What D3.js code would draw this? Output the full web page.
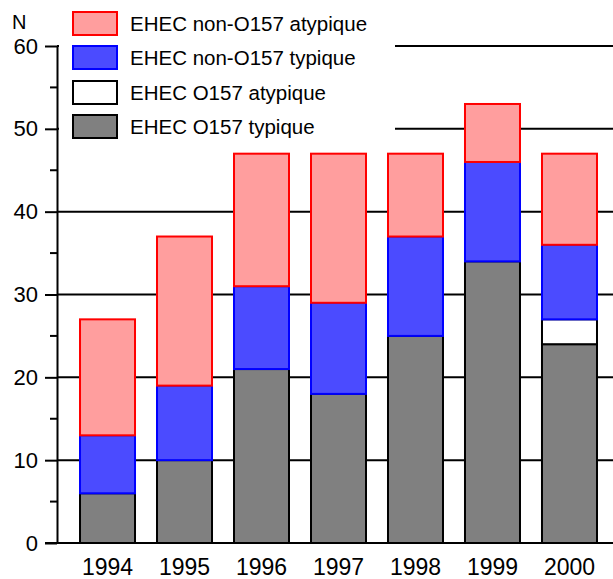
<!DOCTYPE html>
<html>
<head>
<meta charset="utf-8">
<script src="https://cdn.jsdelivr.net/npm/d3@7"></script>
<style>
  body { margin: 0; background: #fff; }
  svg { display: block; font-family: "Liberation Sans", Arial, sans-serif; }
</style>
</head>
<body>
<div id="chart"></div>
<script>
// chart data
const years = ["1994", "1995", "1996", "1997", "1998", "1999", "2000"];
const o157Typique = [6, 10, 21, 18, 25, 34, 24];
const o157Atypique = [0, 0, 0, 0, 0, 0, 3];
const nonO157Typique = [7, 9, 10, 11, 12, 12, 9];
const nonO157Atypique = [14, 18, 16, 18, 10, 7, 11];
const yTicks = [0, 10, 20, 30, 40, 50, 60];
const yMinorTicks = [5, 15, 25, 35, 45, 55];

const seriesKeys = ["o157Typique", "o157Atypique", "nonO157Typique", "nonO157Atypique"];
const seriesLabels = {
  o157Typique: "EHEC O157 typique",
  o157Atypique: "EHEC O157 atypique",
  nonO157Typique: "EHEC non-O157 typique",
  nonO157Atypique: "EHEC non-O157 atypique"
};
const fills = { o157Typique: "#808080", o157Atypique: "#ffffff", nonO157Typique: "#4b4bff", nonO157Atypique: "#ff9e9e" };
const strokes = { o157Typique: "#000000", o157Atypique: "#000000", nonO157Typique: "#0000ff", nonO157Atypique: "#ff0000" };

const rows = years.map((y, i) => ({
  year: y,
  o157Typique: o157Typique[i],
  o157Atypique: o157Atypique[i],
  nonO157Typique: nonO157Typique[i],
  nonO157Atypique: nonO157Atypique[i]
}));

const width = 613, height = 579;
const svg = d3.select("#chart").append("svg")
  .attr("width", width)
  .attr("height", height);

const axisX = 57;
const x = d3.scaleBand()
  .domain(years)
  .range([69, 608])
  .paddingInner(0.2857)
  .paddingOuter(0.143);

const y = d3.scaleLinear()
  .domain([0, 60])
  .range([543, 46]);

// gridlines (behind everything)
svg.append("g")
  .selectAll("line")
  .data(yTicks.filter(d => d > 0))
  .enter()
  .append("line")
  .attr("x1", axisX)
  .attr("x2", width)
  .attr("y1", d => y(d))
  .attr("y2", d => y(d))
  .attr("stroke", "#000")
  .attr("stroke-width", 2);

// stacked bars
const stacked = d3.stack().keys(seriesKeys)(rows);

svg.append("g")
  .selectAll("g")
  .data(stacked)
  .enter()
  .append("g")
  .attr("fill", d => fills[d.key])
  .attr("stroke", d => strokes[d.key])
  .attr("stroke-width", 2)
  .selectAll("rect")
  .data(d => d.filter(v => v[1] - v[0] > 0))
  .enter()
  .append("rect")
  .attr("x", d => x(d.data.year))
  .attr("y", d => y(d[1]))
  .attr("width", x.bandwidth())
  .attr("height", d => y(d[0]) - y(d[1]));

// legend with white background hiding gridlines
const legend = svg.append("g");
legend.append("rect")
  .attr("x", axisX + 2)
  .attr("y", 0)
  .attr("width", 336)
  .attr("height", 142)
  .attr("fill", "#fff");

const legendOrder = ["nonO157Atypique", "nonO157Typique", "o157Atypique", "o157Typique"];
const legendTops = [12, 46, 81, 115];
legendOrder.forEach((k, i) => {
  legend.append("rect")
    .attr("x", 73)
    .attr("y", legendTops[i])
    .attr("width", 44)
    .attr("height", 23)
    .attr("fill", fills[k])
    .attr("stroke", strokes[k])
    .attr("stroke-width", 2);
  legend.append("text")
    .attr("x", 130)
    .attr("y", legendTops[i] + 12)
    .attr("dy", "0.35em")
    .attr("font-size", "20.5px")
    .text(seriesLabels[k]);
});

// y axis
const yAxis = svg.append("g")
  .attr("transform", `translate(${axisX},0)`)
  .call(d3.axisLeft(y).tickValues(yTicks).tickSize(12).tickPadding(7).tickSizeOuter(0));
yAxis.select(".domain").attr("stroke-width", 2);
yAxis.selectAll(".tick line").attr("stroke-width", 2);
yAxis.selectAll("text").attr("font-size", "22px").attr("fill", "#000")
  .attr("font-family", "'Liberation Sans', Arial, sans-serif");

svg.append("g")
  .selectAll("line")
  .data(yMinorTicks)
  .enter()
  .append("line")
  .attr("x1", axisX - 7)
  .attr("x2", axisX)
  .attr("y1", d => y(d))
  .attr("y2", d => y(d))
  .attr("stroke", "#000")
  .attr("stroke-width", 2);

// x axis baseline
svg.append("line")
  .attr("x1", axisX - 12)
  .attr("x2", width)
  .attr("y1", y(0))
  .attr("y2", y(0))
  .attr("stroke", "#000")
  .attr("stroke-width", 2);

svg.append("g")
  .selectAll("text")
  .data(years)
  .enter()
  .append("text")
  .attr("x", d => x(d) + x.bandwidth() / 2)
  .attr("y", 575)
  .attr("text-anchor", "middle")
  .attr("font-size", "23px")
  .text(d => d);

// axis title
svg.append("text")
  .attr("x", 12)
  .attr("y", 29)
  .attr("font-size", "20px")
  .text("N");
</script>
</body>
</html>
